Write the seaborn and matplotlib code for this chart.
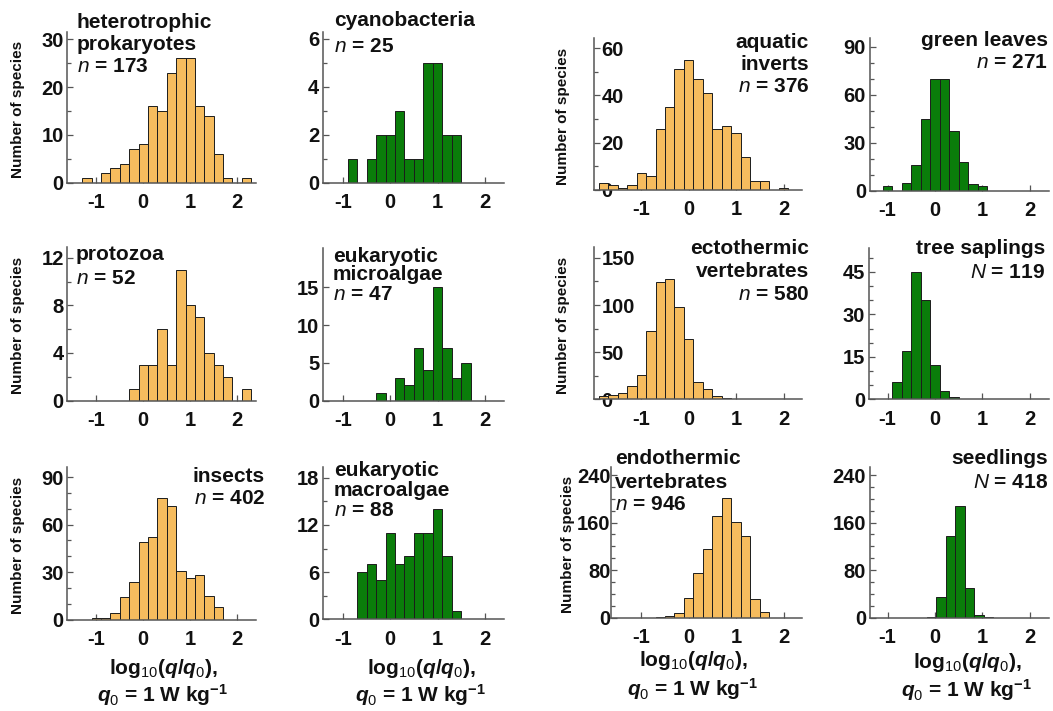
import numpy as np
import pandas as pd
import matplotlib
matplotlib.use("Agg")
import matplotlib.pyplot as plt
from matplotlib.ticker import MultipleLocator
import seaborn as sns

W, H = 1053, 711
BIN = 0.2
ORANGE = "#F6BC5E"
GREEN = "#0A7D0A"

# first bin centre and counts of the 0.2-wide log10(q) bins, per group
het_start, het_counts = -1.2, [1, 0, 2, 3, 4, 7, 8, 16, 15, 23, 26, 26, 16, 14, 6, 1, 0, 1]
cyano_start, cyano_counts = -0.8, [1, 0, 1, 2, 2, 3, 1, 1, 5, 5, 2, 2]
aqua_start, aqua_counts = -1.8, [3, 2, 1, 2, 7, 6, 26, 35, 51, 55, 47, 41, 26, 27, 24, 14, 4, 4, 0, 1]
leaves_start, leaves_counts = -1.0, [3, 0, 5, 16, 45, 70, 70, 37, 18, 4, 3]
proto_start, proto_counts = -0.2, [1, 3, 3, 6, 3, 11, 8, 7, 4, 3, 2, 0, 1]
micro_start, micro_counts = -0.2, [1, 0, 3, 2, 7, 4, 15, 7, 3, 5]
ecto_start, ecto_counts = -1.8, [4, 5, 7, 14, 26, 73, 124, 128, 98, 64, 18, 11, 4, 2, 1, 1]
sapl_start, sapl_counts = -0.8, [6, 17, 45, 35, 12, 3, 1]
insect_start, insect_counts = -1.0, [1, 1, 4, 14, 24, 49, 52, 77, 72, 31, 26, 28, 15, 8]
macro_start, macro_counts = -0.6, [6, 7, 5, 11, 7, 8, 11, 11, 14, 8, 1]
endo_start, endo_counts = -0.6, [1, 3, 8, 33, 75, 115, 171, 202, 161, 137, 31, 9]
seed_start, seed_counts = -0.07, [1, 35, 138, 188, 50, 5, 1]

xticks = [-1, 0, 1, 2]
xticklabels = ["-1", "0", "1", "2"]

sns.set_style("ticks")
plt.rcParams["font.family"] = ["Liberation Sans", "DejaVu Sans"]
plt.rcParams["text.color"] = "#111111"
plt.rcParams["xtick.labelcolor"] = "#111111"
plt.rcParams["ytick.labelcolor"] = "#111111"
plt.rcParams["mathtext.fontset"] = "custom"
plt.rcParams["mathtext.rm"] = "Liberation Sans:bold"
plt.rcParams["mathtext.bf"] = "Liberation Sans:bold"
plt.rcParams["mathtext.it"] = "Liberation Sans:italic"
plt.rcParams["mathtext.sf"] = "Liberation Sans"
if "mathtext.bfit" in plt.rcParams:
    plt.rcParams["mathtext.bfit"] = "Liberation Sans:bold:italic"
    QSYM = r"\mathbfit{q}"
else:
    QSYM = r"\mathit{q}"

# column layout: pixel of x=0 and pixels per unit
COL_X0 = [143.3, 390.3, 688.7, 935.0]
COL_S = [46.9, 47.2, 47.4, 47.4]
XHI = 2.4

panels = [
    dict(start=het_start, counts=het_counts, color=ORANGE, col=0, xlo=-1.62, box=(182.7, 31.7), ytop=31.6,
         yt=[0, 10, 20, 30], minor=5, title=["heterotrophic", "prokaryotes", "$n$ = 173"],
         tx=77, ty=[22, 44, 66], ha="left", ylab=True),
    dict(start=cyano_start, counts=cyano_counts, color=GREEN, col=1, xlo=-1.43, box=(182.7, 31.7), ytop=6.3,
         yt=[0, 2, 4, 6], minor=1, title=["cyanobacteria", "$n$ = 25"],
         tx=334, ty=[20, 47], ha="left"),
    dict(start=aqua_start, counts=aqua_counts, color=ORANGE, col=2, xlo=-2.0, box=(190.0, 38.3), ytop=64.2,
         yt=[0, 20, 40, 60], minor=10, title=["aquatic", "inverts", "$n$ = 376"],
         tx=809, ty=[43, 65, 87], ha="right", ylab=True, inside=True),
    dict(start=leaves_start, counts=leaves_counts, color=GREEN, col=3, xlo=-1.38, box=(190.7, 38.3), ytop=95.2,
         yt=[0, 30, 60, 90], minor=10, title=["green leaves", "$n$ = 271"],
         tx=1048, ty=[40, 62], ha="right"),
    dict(start=proto_start, counts=proto_counts, color=ORANGE, col=0, xlo=-1.62, box=(400.5, 247.0), ytop=12.9,
         yt=[0, 4, 8, 12], minor=2, title=["protozoa", "$n$ = 52"],
         tx=76, ty=[254, 278], ha="left", ylab=True),
    dict(start=micro_start, counts=micro_counts, color=GREEN, col=1, xlo=-1.43, box=(400.5, 248.3), ytop=20.2,
         yt=[0, 5, 10, 15], minor=None, title=["eukaryotic", "microalgae", "$n$ = 47"],
         tx=333, ty=[256, 275, 294], ha="left"),
    dict(start=ecto_start, counts=ecto_counts, color=ORANGE, col=2, xlo=-2.0, box=(399.5, 246.7), ytop=161.7,
         yt=[0, 50, 100, 150], minor=25, title=["ectothermic", "vertebrates", "$n$ = 580"],
         tx=809, ty=[249, 272, 294], ha="right", ylab=True, inside=True),
    dict(start=sapl_start, counts=sapl_counts, color=GREEN, col=3, xlo=-1.4, box=(399.5, 248.3), ytop=53.3,
         yt=[0, 15, 30, 45], minor=5, title=["tree saplings", "$N$ = 119"],
         tx=1045, ty=[249, 273], ha="right"),
    dict(start=insect_start, counts=insect_counts, color=ORANGE, col=0, xlo=-1.62, box=(619.5, 467.3), ytop=96.3,
         yt=[0, 30, 60, 90], minor=10, title=["insects", "$n$ = 402"],
         tx=265, ty=[476, 499], ha="right", ylab=True, xlab=(163, 668, 695)),
    dict(start=macro_start, counts=macro_counts, color=GREEN, col=1, xlo=-1.43, box=(619.3, 466.7), ytop=19.4,
         yt=[0, 6, 12, 18], minor=3, title=["eukaryotic", "macroalgae", "$n$ = 88"],
         tx=334, ty=[470, 490, 510], ha="left", xlab=(421, 668, 695)),
    dict(start=endo_start, counts=endo_counts, color=ORANGE, col=2, xlo=-1.63, box=(617.7, 466.7), ytop=254,
         yt=[0, 80, 160, 240], minor=20, title=["endothermic", "vertebrates", "$n$ = 946"],
         tx=615, ty=[459, 482, 505], ha="left", ylab=True, ypad=0.6, xlab=(693, 661, 689)),
    dict(start=seed_start, counts=seed_counts, color=GREEN, col=3, xlo=-1.38, box=(617.7, 466.7), ytop=254,
         yt=[0, 80, 160, 240], minor=20, title=["seedlings", "$N$ = 418"],
         tx=1048, ty=[459, 482], ha="right", xlab=(967, 662, 690)),
]

xlab1 = r"$\mathrm{log}_{\mathsf{10}}(" + QSYM + "/" + QSYM + r"_{\mathsf{0}})$,"
xlab2 = "$" + QSYM + r"_{\mathsf{0}}$ = 1 W kg$^{-1}$"

fig = plt.figure(figsize=(W / 100, H / 100), dpi=100)
AX_COLOR = "#555555"

for p in panels:
    x0, s = COL_X0[p["col"]], COL_S[p["col"]]
    left, right = x0 + p["xlo"] * s, x0 + XHI * s
    bot, top = p["box"]
    ax = fig.add_axes([left / W, 1 - bot / H, (right - left) / W, (bot - top) / H])

    df = pd.DataFrame({"x": p["start"] + BIN * np.arange(len(p["counts"])),
                       "n": p["counts"]})
    lo = df["x"].iloc[0] - BIN / 2
    hi = df["x"].iloc[-1] + BIN / 2
    sns.histplot(data=df, x="x", weights="n", binwidth=BIN, binrange=(lo, hi),
                 color=p["color"], alpha=1, edgecolor="#1c1c1c", linewidth=0.7, ax=ax)

    ax.set_xlim(p["xlo"], XHI)
    ax.set_ylim(0, p["ytop"])
    ax.set_xlabel("")
    ax.set_ylabel("")
    sns.despine(ax=ax)
    for sp in ("left", "bottom"):
        ax.spines[sp].set_color(AX_COLOR)
        ax.spines[sp].set_linewidth(1.1)
    ax.set_axisbelow(True)

    ax.set_xticks(xticks)
    ax.set_xticklabels(xticklabels, fontsize=14.5, fontweight="bold")
    ax.set_yticks(p["yt"])
    ax.set_yticklabels([str(v) for v in p["yt"]], fontsize=14.5, fontweight="bold")
    if p["minor"]:
        ax.yaxis.set_minor_locator(MultipleLocator(p["minor"]))
    ax.tick_params(axis="both", which="both", direction="in", color=AX_COLOR, width=0.9)
    ax.tick_params(axis="both", which="major", length=4)
    ax.tick_params(axis="y", which="minor", length=3)
    ax.tick_params(axis="x", pad=7.5)
    if p.get("inside"):
        ax.tick_params(axis="y", pad=-5.5)
        for lbl in ax.get_yticklabels():
            lbl.set_horizontalalignment("left")
    else:
        ax.tick_params(axis="y", pad=p.get("ypad", 2.5))

    for line, ty in zip(p["title"], p["ty"]):
        fig.text(p["tx"] / W, 1 - ty / H, line, ha=p["ha"], va="center",
                 fontsize=15, fontweight="bold")

    if p.get("ylab"):
        yc = (bot + top) / 2 + 2
        yx = 18.3 if p["col"] == 0 else (568 if p.get("ypad") else 563.3)
        fig.text(yx / W, 1 - yc / H, "Number of species", rotation=90, ha="center", va="center",
                 fontsize=11, fontweight="bold")
    if p.get("xlab"):
        cx, y1, y2 = p["xlab"]
        fig.text(cx / W, 1 - y1 / H, xlab1, ha="center", va="center", fontsize=15, fontweight="bold")
        fig.text(cx / W, 1 - y2 / H, xlab2, ha="center", va="center", fontsize=15, fontweight="bold")

fig.savefig("out.png", dpi=100)
plt.close(fig)
